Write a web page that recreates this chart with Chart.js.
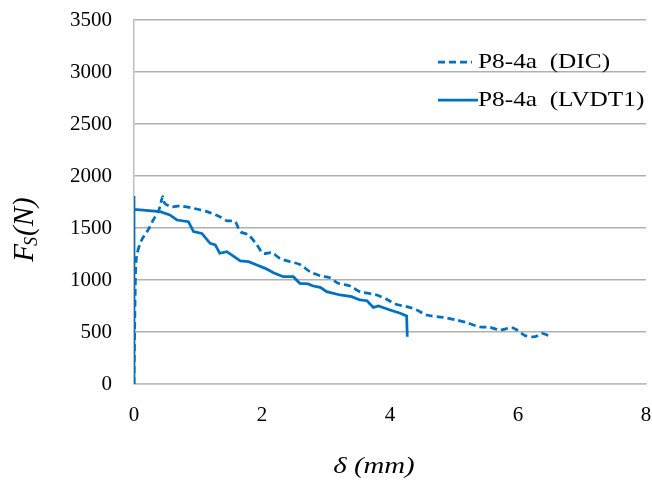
<!DOCTYPE html>
<html>
<head>
<meta charset="utf-8">
<script src="https://cdn.jsdelivr.net/npm/chart.js@4.4.1/dist/chart.umd.min.js"></script>
<style>
  html, body { margin: 0; padding: 0; background: #fff; }
  #wrap { width: 652px; height: 480px; position: relative; }
</style>
</head>
<body>
<div id="wrap"><canvas id="myChart" width="652" height="480"></canvas></div>
<script>
// datos
const dicX = [0, 0.02, 0.04, 0.12, 0.22, 0.30, 0.38, 0.45, 0.48, 0.59, 0.72, 0.93, 1.14, 1.34, 1.45, 1.58, 1.66, 1.79, 1.92, 2.02, 2.15, 2.28, 2.44, 2.59, 2.75, 2.91, 3.06, 3.19, 3.38, 3.53, 3.79, 3.97, 4.08, 4.26, 4.42, 4.57, 4.83, 5.04, 5.20, 5.41, 5.56, 5.72, 5.90, 6.00, 6.11, 6.27, 6.37, 6.48];
const dicY = [0, 900, 1224, 1385, 1481, 1577, 1657, 1801, 1737, 1705, 1712, 1689, 1657, 1609, 1570, 1561, 1465, 1433, 1337, 1256, 1263, 1208, 1176, 1150, 1080, 1040, 1022, 968, 942, 888, 856, 808, 769, 744, 712, 663, 641, 615, 590, 548, 545, 519, 542, 513, 465, 455, 487, 465];

const lvdtX = [0, 0, 0, 0.41, 0.56, 0.67, 0.85, 0.93, 1.06, 1.19, 1.27, 1.34, 1.45, 1.53, 1.66, 1.79, 1.92, 2.05, 2.18, 2.33, 2.49, 2.59, 2.72, 2.80, 2.91, 3.01, 3.22, 3.40, 3.53, 3.64, 3.74, 3.82, 4.00, 4.16, 4.26, 4.27];
const lvdtY = [0, 1808, 1680, 1657, 1625, 1577, 1561, 1465, 1448, 1353, 1337, 1257, 1272, 1240, 1183, 1176, 1144, 1112, 1070, 1032, 1032, 968, 962, 942, 930, 888, 856, 840, 808, 801, 737, 750, 712, 680, 654, 455];

const yTicks = [0, 500, 1000, 1500, 2000, 2500, 3000, 3500];
const xTicks = [0, 2, 4, 6, 8];
const seriesNames = ['P8-4a  (DIC)', 'P8-4a  (LVDT1)'];

const azul = '#0070C0';
const fuente = '"Liberation Serif", "Times New Roman", serif';

const toPts = (xs, ys) => xs.map((x, i) => ({ x: x, y: ys[i] }));

// texto algo ensanchado como en la imagen original
function textoAncho(c, txt, x, y, sx) {
  c.save();
  c.translate(x, y);
  c.scale(sx, 1);
  c.fillText(txt, 0, 0);
  c.restore();
}

// leyenda y titulos dibujados a mano
const extras = {
  id: 'extras',
  afterDraw(chart) {
    const c = chart.ctx;
    c.save();
    // leyenda
    c.strokeStyle = azul;
    c.lineWidth = 2.75;
    c.setLineDash([7, 4]);
    c.beginPath(); c.moveTo(438, 62); c.lineTo(472, 62); c.stroke();
    c.setLineDash([]);
    c.beginPath(); c.moveTo(438, 100); c.lineTo(478, 100); c.stroke();
    c.fillStyle = '#000';
    c.font = '22px ' + fuente;
    c.textBaseline = 'middle';
    c.textAlign = 'left';
    textoAncho(c, seriesNames[0], 478, 62, 1.15);
    textoAncho(c, seriesNames[1], 478, 100, 1.15);

    // titulo eje x
    c.font = 'italic 24px ' + fuente;
    c.textAlign = 'center';
    c.textBaseline = 'alphabetic';
    textoAncho(c, '\u03b4 (mm)', 374, 473, 1.2);

    // titulo eje y
    c.translate(33, 229);
    c.rotate(-Math.PI / 2);
    c.textAlign = 'left';
    const f1 = 'italic 29px ' + fuente;
    const f2 = 'italic 18px ' + fuente;
    c.font = f1; const wF = c.measureText('F').width;
    c.font = f2; const wS = c.measureText('S').width;
    c.font = f1; const wN = c.measureText('(N)').width;
    const total = wF + wS + wN;
    let x0 = -total / 2;
    c.font = f1; c.fillText('F', x0, 0);
    c.font = f2; c.fillText('S', x0 + wF - 2, 4);
    c.font = f1; c.fillText('(N)', x0 + wF + wS - 1, 0);
    c.restore();
  }
};

const ctx = document.getElementById('myChart').getContext('2d');

new Chart(ctx, {
  type: 'scatter',
  data: {
    datasets: [{
      label: seriesNames[0],
      data: toPts(dicX, dicY),
      showLine: true,
      borderColor: azul,
      borderWidth: 2.75,
      borderDash: [7, 4],
      pointRadius: 0,
      tension: 0.3
    }, {
      label: seriesNames[1],
      data: toPts(lvdtX, lvdtY),
      showLine: true,
      borderColor: azul,
      borderWidth: 2.75,
      pointRadius: 0,
      tension: 0
    }]
  },
  options: {
    responsive: false,
    animation: false,
    layout: { padding: { left: 0, top: 20, right: 6, bottom: 0 } },
    plugins: {
      legend: { display: false },
      tooltip: { enabled: false }
    },
    scales: {
      x: {
        type: 'linear',
        min: 0,
        max: 8,
        afterBuildTicks: s => { s.ticks = xTicks.map(v => ({ value: v })); },
        afterFit: s => {
          s.height = 96;
          s.paddingLeft = 0; s.paddingRight = 0;
        },
        grid: { display: false, drawTicks: false },
        border: { display: true, color: '#bfbfbf', width: 1.5 },
        ticks: {
          color: '#000', padding: 19,
          font: { family: fuente, size: 21 },
          callback: v => String(v)
        }
      },
      y: {
        min: 0,
        max: 3500,
        afterBuildTicks: s => { s.ticks = yTicks.map(v => ({ value: v })); },
        afterFit: s => {
          s.width = 134;
          s.paddingTop = 0; s.paddingBottom = 0;
        },
        grid: { color: '#b0b0b0', lineWidth: 1.5, drawTicks: false },
        border: { display: true, color: '#bfbfbf', width: 1.5 },
        ticks: {
          color: '#000', padding: 22,
          font: { family: fuente, size: 21 },
          callback: v => String(v)
        }
      }
    }
  },
  plugins: [extras]
});
</script>
</body>
</html>
